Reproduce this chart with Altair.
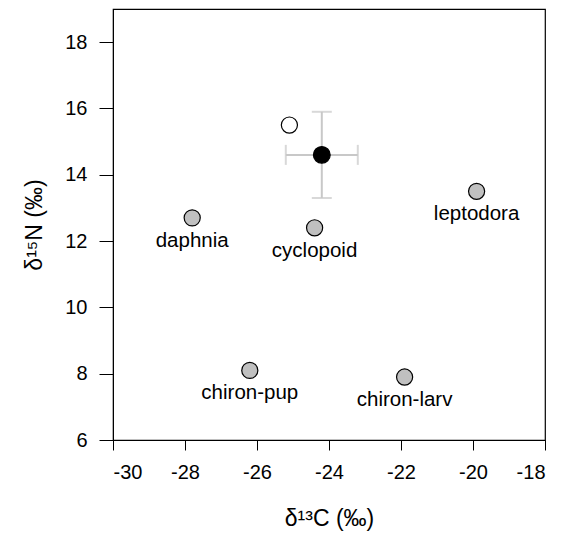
import altair as alt
import pandas as pd

# Prey groups
names = ["daphnia", "cyclopoid", "leptodora", "chiron-pup", "chiron-larv"]
prey_c = [-27.8, -24.4, -19.9, -26.2, -21.9]
prey_n = [12.7, 12.4, 13.5, 8.1, 7.9]

# Open (individual) point
open_c = [-25.1]
open_n = [15.5]

# Mean consumer point with error ranges
mean_c = [-24.2]
mean_n = [14.6]
c_lo = [-25.2]
c_hi = [-23.2]
n_lo = [13.3]
n_hi = [15.9]

x_ticks = [-30, -28, -26, -24, -22, -20, -18]
y_ticks = [6, 8, 10, 12, 14, 16, 18]

prey = pd.DataFrame({"name": names, "c": prey_c, "n": prey_n})
opn = pd.DataFrame({"c": open_c, "n": open_n})
mean = pd.DataFrame({"c": mean_c, "n": mean_n, "clo": c_lo, "chi": c_hi, "nlo": n_lo, "nhi": n_hi})
caps_x = pd.DataFrame({"c": c_lo + c_hi, "n": mean_n * 2})
caps_y = pd.DataFrame({"c": mean_c * 2, "n": n_lo + n_hi})

FONT = "Liberation Sans"
FS = 20
TFS = 23

xs = alt.Scale(domain=[-30, -18], nice=False, zero=False)
ys = alt.Scale(domain=[6, 19], nice=False, zero=False)

xax = alt.Axis(values=x_ticks, title="δ¹³C (‰)", grid=False, labelExpr="toString(datum.value)",
               tickSize=10, labelPadding=12, titlePadding=25, domainColor="black", tickColor="black",
               labelFont=FONT, labelFontSize=FS, titleFont=FONT, titleFontSize=TFS,
               titleFontWeight="normal", labelColor="black", titleColor="black")
yax = alt.Axis(values=y_ticks, title="δ¹⁵N (‰)", grid=False, labelExpr="toString(datum.value)",
               tickSize=14, labelPadding=12, titlePadding=18, domainColor="black", tickColor="black",
               labelFont=FONT, labelFontSize=FS, titleFont=FONT, titleFontSize=TFS,
               titleFontWeight="normal", labelColor="black", titleColor="black")

ERR = "#c8c8c8"

hbar = alt.Chart(mean).mark_rule(color=ERR, strokeWidth=2).encode(
    x=alt.X("clo:Q", scale=xs, axis=xax), x2="chi:Q", y=alt.Y("n:Q", scale=ys, axis=yax))
vbar = alt.Chart(mean).mark_rule(color=ERR, strokeWidth=2).encode(
    x=alt.X("c:Q", scale=xs), y=alt.Y("nlo:Q", scale=ys), y2="nhi:Q")
capx = alt.Chart(caps_x).mark_tick(color=ERR, thickness=2, size=20, orient="vertical").encode(
    x=alt.X("c:Q", scale=xs), y=alt.Y("n:Q", scale=ys))
capy = alt.Chart(caps_y).mark_tick(color=ERR, thickness=2, size=20, orient="horizontal").encode(
    x=alt.X("c:Q", scale=xs), y=alt.Y("n:Q", scale=ys))

pts = alt.Chart(prey).mark_point(shape="circle", filled=True, fill="#c0c0c0", stroke="black",
                                 strokeWidth=1.2, size=260, opacity=1).encode(
    x=alt.X("c:Q", scale=xs), y=alt.Y("n:Q", scale=ys))
labels = alt.Chart(prey).mark_text(font=FONT, fontSize=FS + 0.5, dy=23, baseline="middle",
                                   align="center", color="black").encode(
    x=alt.X("c:Q", scale=xs), y=alt.Y("n:Q", scale=ys), text="name:N")
openpt = alt.Chart(opn).mark_point(shape="circle", filled=True, fill="white", stroke="black",
                                   strokeWidth=1.2, size=260, opacity=1).encode(
    x=alt.X("c:Q", scale=xs), y=alt.Y("n:Q", scale=ys))
meanpt = alt.Chart(mean).mark_point(shape="circle", filled=True, fill="black", stroke="black",
                                    strokeWidth=1.2, size=280, opacity=1).encode(
    x=alt.X("c:Q", scale=xs), y=alt.Y("n:Q", scale=ys))

chart = alt.layer(hbar, vbar, capx, capy, pts, labels, openpt, meanpt).properties(
    width=432, height=431,
    autosize=alt.AutoSizeParams(type="none"),
    padding={"left": 113, "top": 9, "right": 18, "bottom": 103},
    background="white",
).configure_view(stroke="black", strokeWidth=1.2)

chart.save("out.html", embed_options={"renderer": "svg", "actions": False})
